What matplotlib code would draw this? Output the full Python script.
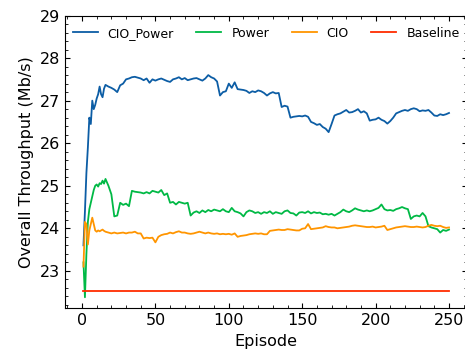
import matplotlib
matplotlib.use("Agg")
import matplotlib.pyplot as plt
from matplotlib.ticker import MultipleLocator

# Episodios (mas densos al principio)
episodes = list(range(1, 17)) + list(range(18, 251, 2))

cio_power = [
    23.6, 24.4, 25.3, 25.9, 26.6, 26.45, 27.0, 26.8, 26.9, 27.05, 27.15, 27.33, 27.15, 27.08, 27.28, 27.37,
    27.33, 27.3, 27.26, 27.2, 27.36, 27.4, 27.5, 27.52, 27.55, 27.56, 27.54, 27.52, 27.48, 27.52,
    27.42, 27.5, 27.47, 27.5, 27.52, 27.49, 27.46, 27.44, 27.5, 27.52, 27.55, 27.5, 27.53, 27.48,
    27.5, 27.52, 27.53, 27.5, 27.47, 27.52, 27.6, 27.55, 27.52, 27.45, 27.12, 27.2, 27.22, 27.4,
    27.3, 27.43, 27.27, 27.26, 27.25, 27.23, 27.18, 27.22, 27.2, 27.24, 27.22, 27.18, 27.12, 27.17,
    27.2, 27.17, 27.18, 26.85, 26.88, 26.86, 26.6, 26.62, 26.63, 26.64, 26.63, 26.65, 26.62, 26.5,
    26.47, 26.43, 26.45, 26.38, 26.34, 26.26, 26.45, 26.65, 26.68, 26.7, 26.74, 26.78, 26.72, 26.73,
    26.76, 26.8, 26.72, 26.75, 26.7, 26.53, 26.55, 26.56, 26.6, 26.55, 26.52, 26.46, 26.52, 26.6,
    26.7, 26.73, 26.76, 26.78, 26.76, 26.8, 26.82, 26.8, 26.75, 26.77, 26.76, 26.78, 26.72, 26.65,
    26.64, 26.68, 26.66, 26.68, 26.71,
]

power = [
    23.2, 22.38, 23.4, 24.15, 24.45, 24.6, 24.74, 24.9, 25.0, 25.03, 24.98, 25.06, 25.04, 25.12, 25.05, 25.16,
    25.0, 24.8, 24.28, 24.3, 24.6, 24.55, 24.58, 24.52, 24.88, 24.86, 24.85, 24.84, 24.82, 24.85,
    24.82, 24.88, 24.86, 24.84, 24.9, 24.78, 24.82, 24.6, 24.62, 24.56, 24.62, 24.6, 24.58, 24.6,
    24.3, 24.37, 24.4, 24.36, 24.42, 24.38, 24.43, 24.4, 24.44, 24.42, 24.4, 24.45, 24.4, 24.38,
    24.48, 24.4, 24.38, 24.35, 24.28, 24.38, 24.42, 24.4, 24.36, 24.38, 24.34, 24.38, 24.36, 24.4,
    24.34, 24.38, 24.36, 24.34, 24.4, 24.42, 24.36, 24.35, 24.3, 24.37, 24.38, 24.36, 24.4, 24.35,
    24.38, 24.36, 24.37, 24.33, 24.34, 24.32, 24.34, 24.3, 24.34, 24.38, 24.44, 24.4, 24.38, 24.42,
    24.47, 24.44, 24.42, 24.4, 24.42, 24.4, 24.42, 24.45, 24.48, 24.56, 24.45, 24.42, 24.43, 24.41,
    24.45, 24.47, 24.5, 24.47, 24.45, 24.22, 24.28, 24.3, 24.28, 24.36, 24.28, 24.05, 24.02, 24.0,
    23.98, 23.9, 23.96, 23.94, 23.97,
]

cio = [
    23.1, 24.15, 24.1, 23.62, 23.95, 24.1, 24.25, 24.1, 23.95, 23.92, 23.95, 23.93, 23.95, 23.97, 23.94, 23.92,
    23.9, 23.88, 23.9, 23.88, 23.89, 23.9, 23.88, 23.9, 23.9, 23.92, 23.88, 23.88, 23.76, 23.78,
    23.77, 23.78, 23.67, 23.8, 23.84, 23.86, 23.87, 23.9, 23.88, 23.91, 23.93, 23.9, 23.9, 23.88,
    23.87, 23.88, 23.9, 23.92, 23.9, 23.88, 23.9, 23.88, 23.87, 23.88, 23.86, 23.87, 23.86, 23.87,
    23.85, 23.88, 23.8, 23.82, 23.83, 23.84, 23.86, 23.87, 23.88, 23.87, 23.88, 23.86, 23.86, 23.94,
    23.95, 23.96, 23.97, 23.96, 23.96, 23.98, 23.97, 23.96, 23.95, 23.95, 23.99, 24.0, 24.1, 23.98,
    23.99, 24.0, 24.01, 24.02, 24.05, 24.03, 24.02, 24.02, 24.0, 24.01, 24.02, 24.03, 24.04, 24.06,
    24.07, 24.06, 24.05, 24.04, 24.03, 24.03, 24.04, 24.02, 24.03, 24.04, 24.06, 23.96, 23.98, 24.0,
    24.02, 24.03, 24.04, 24.05, 24.04, 24.03, 24.03, 24.04, 24.03, 24.02, 24.03, 24.06, 24.08, 24.06,
    24.05, 24.06, 24.03, 24.01, 24.02,
]

baseline = [22.52] * len(episodes)

fig = plt.figure(figsize=(4.65, 3.55), dpi=100)
ax = fig.add_axes([0.1402, 0.1315, 0.8647, 0.8248])

ax.plot(episodes, cio_power, color='#0C5DA5', lw=1.3, label='CIO_Power')
ax.plot(episodes, power, color='#00B945', lw=1.3, label='Power')
ax.plot(episodes, cio, color='#FF9500', lw=1.3, label='CIO')
ax.plot(episodes, baseline, color='#FF2C00', lw=1.3, label='Baseline')

ax.set_xlim(-11.45, 262.45)
ax.set_ylim(22.12, 29)
ax.xaxis.set_major_locator(MultipleLocator(50))
ax.xaxis.set_minor_locator(MultipleLocator(10))
ax.yaxis.set_major_locator(MultipleLocator(1))
ax.yaxis.set_minor_locator(MultipleLocator(0.2))
ax.tick_params(which='both', direction='in', top=True, right=True, labelsize=11.5)
ax.tick_params(which='major', length=3.5, width=0.8)
ax.tick_params(which='minor', length=2, width=0.6)
for s in ax.spines.values():
    s.set_linewidth(0.8)

ax.set_xlabel("Episode", fontsize=11.5)
ax.set_ylabel("Overall Throughput (Mb/s)", fontsize=11.5)
ax.legend(loc='upper center', ncol=4, frameon=False, fontsize=9, columnspacing=1.8)

fig.savefig("out.png", dpi=100)
